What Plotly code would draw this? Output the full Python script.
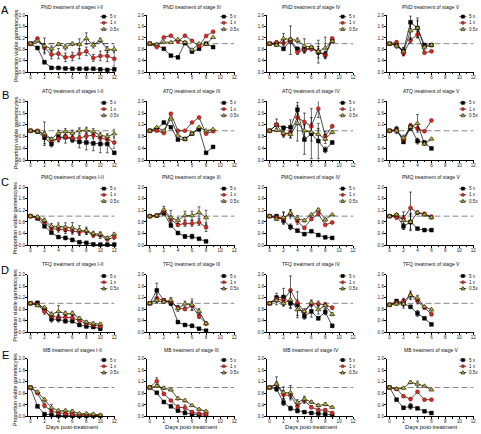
import plotly.graph_objects as go

W, H = 481, 434

# ---------------- data ----------------
titles = [
    "PND treatment of stages I-II", "PND treatment of stage III", "PND treatment of stage IV", "PND treatment of stage V",
    "ATQ treatment of stages I-II", "ATQ treatment of stage III", "ATQ treatment of stage IV", "ATQ treatment of stage V",
    "PMQ treatment of stages I-II", "PMQ treatment of stage III", "PMQ treatment of stage IV", "PMQ treatment of stage V",
    "TFQ treatment of stages I-II", "TFQ treatment of stage III", "TFQ treatment of stage IV", "TFQ treatment of stage V",
    "MB treatment of stages I-II", "MB treatment of stage III", "MB treatment of stage IV", "MB treatment of stage V",
]
row_letters = ["A", "B", "C", "D", "E"]
series_names = ["5 x", "1 x", "0.5x"]
x_ticks = [0, 2, 4, 6, 8, 10, 12]
y_ticks = [0.0, 0.4, 0.8, 1.2, 1.6, 2.0]

# A: PND
A1_5x = [1.00, 0.85, 0.35, 0.15, 0.15, 0.13, 0.12, 0.12, 0.12, 0.12, 0.10, 0.08, 0.10]
A1_5x_err = [0, 0.05, 0.06, 0.02, 0.02, 0.02, 0.02, 0.02, 0.02, 0.02, 0.02, 0.02, 0.06]
A1_1x = [1.00, 1.18, 0.85, 0.62, 0.65, 0.52, 0.55, 0.65, 0.73, 0.50, 0.57, 0.57, 0.47]
A1_1x_err = [0, 0.04, 0.15, 0.15, 0.18, 0.15, 0.15, 0.18, 0.15, 0.12, 0.17, 0.20, 0.25]
A1_05x = [1.00, 1.10, 0.92, 0.82, 0.98, 0.88, 0.99, 0.97, 1.18, 0.95, 1.12, 0.80, 0.80]
A1_05x_err = [0, 0.05, 0.28, 0.10, 0.05, 0.10, 0.06, 0.20, 0.20, 0.10, 0.08, 0.10, 0.12]

A2_5x = [1.00, 0.95, 0.82, 0.58, 0.52, 1.02, 0.72, 0.82, 1.00, 0.88]
A2_5x_err = [0, 0, 0, 0, 0, 0, 0, 0, 0, 0]
A2_1x = [1.00, 0.88, 1.22, 1.28, 1.08, 1.28, 1.10, 0.92, 1.27, 1.42]
A2_1x_err = [0, 0, 0, 0, 0, 0, 0, 0, 0, 0]
A2_05x = [1.00, 0.98, 1.05, 1.05, 1.15, 1.05, 0.78, 1.00, 0.98, 1.22]
A2_05x_err = [0, 0, 0, 0, 0, 0, 0, 0, 0, 0]

A3_5x = [1.00, 1.00, 0.82, 1.12, 0.82, 0.80, 0.85, 0.70, 0.62, 1.10]
A3_5x_err = [0, 0.05, 0.05, 0.50, 0.05, 0.10, 0.05, 0.20, 0.10, 0.05]
A3_1x = [1.00, 1.05, 1.02, 1.10, 0.70, 0.78, 0.82, 0.72, 0.60, 1.18]
A3_1x_err = [0, 0.05, 0.10, 0.10, 0.08, 0.10, 0.08, 0.10, 0.10, 0.05]
A3_05x = [1.00, 0.95, 1.18, 1.15, 1.12, 0.92, 0.88, 0.72, 0.85, 1.08]
A3_05x_err = [0, 0.05, 0.18, 0.05, 0.08, 0.25, 0.05, 0.40, 0.38, 0.05]

A4_5x = [1.00, 0.95, 0.75, 1.75, 1.55, 0.95, 0.95]
A4_5x_err = [0, 0.05, 0.10, 0.22, 0.25, 0.05, 0.03]
A4_1x = [1.00, 1.05, 0.65, 1.12, 1.32, 0.68, 0.73]
A4_1x_err = [0, 0.05, 0.05, 0.10, 0.10, 0.03, 0.03]
A4_05x = [1.00, 0.92, 0.72, 1.45, 1.55, 0.88, 0.95]
A4_05x_err = [0, 0.08, 0.15, 0.30, 0.35, 0.10, 0.05]

# B: ATQ
B1_5x = [1.00, 0.97, 0.76, 0.55, 0.78, 0.78, 0.70, 0.62, 0.60, 0.57, 0.55, 0.55, 0.25]
B1_5x_err = [0, 0.03, 0.20, 0.10, 0.15, 0.20, 0.10, 0.20, 0.25, 0.25, 0.30, 0.30, 0.05]
B1_1x = [1.00, 1.00, 0.85, 0.68, 0.72, 0.80, 0.75, 0.75, 0.82, 0.85, 0.75, 0.70, 0.60]
B1_1x_err = [0, 0.03, 0.10, 0.05, 0.10, 0.05, 0.10, 0.10, 0.10, 0.10, 0.10, 0.10, 0.20]
B1_05x = [1.00, 0.97, 0.90, 0.72, 0.92, 0.97, 0.92, 1.00, 1.02, 0.97, 0.85, 0.80, 0.90]
B1_05x_err = [0, 0.03, 0.40, 0.05, 0.10, 0.10, 0.10, 0.10, 0.10, 0.10, 0.10, 0.10, 0.15]

B2_5x = [1.00, 1.05, 1.28, 1.12, 0.70, 0.72, 0.90, 1.05, 0.25, 0.45]
B2_5x_err = [0, 0, 0, 0, 0, 0, 0, 0, 0, 0]
B2_1x = [1.00, 1.00, 0.92, 1.58, 1.00, 1.00, 1.28, 1.45, 0.90, 0.98]
B2_1x_err = [0, 0, 0, 0, 0, 0, 0, 0, 0, 0]
B2_05x = [1.00, 1.12, 1.00, 1.40, 0.85, 0.72, 0.90, 1.12, 1.00, 1.05]
B2_05x_err = [0, 0, 0, 0, 0, 0, 0, 0, 0, 0]

B3_5x = [1.00, 1.20, 1.10, 1.12, 1.72, 0.70, 0.90, 0.65, 0.35, 0.60]
B3_5x_err = [0, 0.05, 0.05, 0.25, 0.25, 0.50, 0.85, 0.60, 0.10, 0.05]
B3_1x = [1.00, 1.20, 0.88, 0.95, 1.45, 1.30, 1.15, 1.75, 0.82, 1.15]
B3_1x_err = [0, 0.20, 0.10, 0.20, 0.20, 0.30, 0.30, 0.30, 0.15, 0.05]
B3_05x = [1.00, 1.02, 0.92, 0.88, 1.25, 1.00, 0.95, 0.88, 0.72, 0.95]
B3_05x_err = [0, 0.05, 0.10, 0.10, 0.60, 0.20, 0.30, 0.20, 0.15, 0.05]

B4_5x = [1.00, 1.05, 0.62, 1.12, 0.65, 0.60, 0.40]
B4_5x_err = [0, 0.10, 0.05, 0.10, 0.10, 0.05, 0.03]
B4_1x = [1.00, 1.02, 0.70, 1.18, 1.08, 0.98, 1.35]
B4_1x_err = [0, 0.05, 0.05, 0.05, 0.05, 0.03, 0.03]
B4_05x = [1.00, 1.00, 0.75, 1.12, 1.25, 0.55, 0.72]
B4_05x_err = [0, 0.10, 0.10, 0.10, 0.30, 0.05, 0.03]

# C: PMQ
C1_5x = [1.00, 0.92, 0.65, 0.43, 0.28, 0.25, 0.18, 0.10, 0.08, 0.03, 0.02, 0.02, 0.02]
C1_5x_err = [0, 0.03, 0.05, 0.03, 0.03, 0.06, 0.06, 0.03, 0.03, 0.02, 0.02, 0.02, 0.02]
C1_1x = [1.00, 0.95, 0.78, 0.57, 0.55, 0.52, 0.50, 0.45, 0.47, 0.35, 0.33, 0.20, 0.27]
C1_1x_err = [0, 0.03, 0.08, 0.10, 0.10, 0.12, 0.12, 0.12, 0.10, 0.08, 0.10, 0.05, 0.08]
C1_05x = [1.00, 0.98, 0.85, 0.65, 0.65, 0.62, 0.60, 0.52, 0.50, 0.40, 0.38, 0.25, 0.38]
C1_05x_err = [0, 0.03, 0.08, 0.10, 0.12, 0.15, 0.18, 0.15, 0.12, 0.08, 0.08, 0.05, 0.05]

C2_5x = [1.00, 1.02, 1.10, 0.68, 0.42, 0.30, 0.30, 0.22, 0.13]
C2_5x_err = [0, 0.02, 0.05, 0.05, 0.05, 0.06, 0.08, 0.03, 0.03]
C2_1x = [1.00, 1.02, 1.15, 0.88, 0.70, 0.75, 0.75, 0.78, 0.62]
C2_1x_err = [0, 0.02, 0.10, 0.10, 0.05, 0.10, 0.10, 0.10, 0.15]
C2_05x = [1.00, 1.02, 1.22, 0.95, 0.85, 1.02, 1.02, 1.12, 0.95]
C2_05x_err = [0, 0.02, 0.12, 0.25, 0.10, 0.15, 0.15, 0.20, 0.25]

C3_5x = [1.00, 1.00, 0.85, 0.63, 0.50, 0.38, 0.48, 0.35, 0.27, 0.25]
C3_5x_err = [0, 0.05, 0.05, 0.10, 0.05, 0.05, 0.03, 0.03, 0.03, 0.03]
C3_1x = [1.00, 0.95, 0.92, 1.08, 0.82, 0.60, 0.90, 1.08, 0.70, 0.78]
C3_1x_err = [0, 0.08, 0.20, 0.15, 0.10, 0.05, 0.05, 0.05, 0.03, 0.03]
C3_05x = [1.00, 0.90, 0.95, 1.10, 0.92, 0.85, 1.05, 1.22, 0.88, 1.05]
C3_05x_err = [0, 0.05, 0.20, 0.10, 0.10, 0.05, 0.05, 0.05, 0.05, 0.03]

C4_5x = [1.00, 1.02, 0.65, 0.80, 0.57, 0.52, 0.52]
C4_5x_err = [0, 0.05, 0.10, 0.25, 0.03, 0.03, 0.03]
C4_1x = [1.00, 0.95, 0.92, 1.28, 1.12, 1.08, 0.98]
C4_1x_err = [0, 0.05, 0.10, 0.55, 0.05, 0.05, 0.05]
C4_05x = [1.00, 1.05, 0.85, 0.80, 1.12, 1.05, 0.95]
C4_05x_err = [0, 0.05, 0.30, 0.30, 0.05, 0.05, 0.05]

# D: TFQ
D1_5x = [1.00, 1.02, 0.80, 0.45, 0.45, 0.38, 0.38, 0.25, 0.20, 0.18, 0.12]
D1_5x_err = [0, 0.03, 0.05, 0.10, 0.10, 0.05, 0.05, 0.05, 0.05, 0.05, 0.05]
D1_1x = [1.00, 0.95, 0.72, 0.55, 0.52, 0.52, 0.50, 0.40, 0.30, 0.25, 0.20]
D1_1x_err = [0, 0.03, 0.10, 0.10, 0.10, 0.10, 0.08, 0.05, 0.05, 0.05, 0.05]
D1_05x = [1.00, 0.92, 0.85, 0.62, 0.72, 0.65, 0.65, 0.48, 0.35, 0.30, 0.28]
D1_05x_err = [0, 0.03, 0.05, 0.08, 0.20, 0.08, 0.08, 0.05, 0.05, 0.05, 0.05]

D2_5x = [1.00, 1.45, 1.10, 1.00, 0.35, 0.25, 0.22, 0.12, 0.05]
D2_5x_err = [0, 0.25, 0.05, 0.08, 0.03, 0.03, 0.05, 0.02, 0.02]
D2_1x = [1.00, 1.18, 1.10, 1.05, 0.85, 0.80, 0.92, 0.55, 0.30]
D2_1x_err = [0, 0.15, 0.05, 0.10, 0.08, 0.05, 0.15, 0.08, 0.05]
D2_05x = [1.00, 1.10, 1.05, 1.10, 0.82, 0.98, 0.95, 0.72, 0.30]
D2_05x_err = [0, 0.10, 0.05, 0.10, 0.10, 0.10, 0.20, 0.10, 0.05]

D3_5x = [1.00, 1.20, 1.22, 1.00, 0.95, 0.55, 0.72, 0.48, 0.70, 0.22]
D3_5x_err = [0, 0.15, 0.30, 0.15, 0.45, 0.10, 0.20, 0.05, 0.10, 0.05]
D3_1x = [1.00, 1.15, 1.10, 1.45, 1.02, 0.70, 0.98, 0.98, 0.95, 0.85]
D3_1x_err = [0, 0.10, 0.10, 0.50, 0.10, 0.05, 0.10, 0.10, 0.05, 0.05]
D3_05x = [1.00, 1.10, 1.00, 1.12, 0.78, 0.72, 1.02, 0.78, 0.92, 0.62]
D3_05x_err = [0, 0.15, 0.10, 0.30, 0.20, 0.10, 0.10, 0.15, 0.10, 0.05]

D4_5x = [0.95, 1.08, 1.00, 0.88, 0.65, 0.48, 0.27]
D4_5x_err = [0, 0.05, 0.10, 0.05, 0.10, 0.03, 0.03]
D4_1x = [0.95, 1.02, 1.08, 1.28, 1.08, 0.85, 0.62]
D4_1x_err = [0, 0.05, 0.10, 0.10, 0.10, 0.05, 0.05]
D4_05x = [0.95, 0.98, 0.98, 1.28, 1.18, 0.88, 0.78]
D4_05x_err = [0, 0.05, 0.15, 0.15, 0.10, 0.05, 0.05]

# E: MB
E1_5x = [1.00, 0.35, 0.08, 0.05, 0.03, 0.03, 0.02, 0.02, 0.02, 0.02, 0.02]
E1_5x_err = [0, 0.05, 0.03, 0.03, 0.02, 0.02, 0.02, 0.02, 0.02, 0.02, 0.02]
E1_1x = [1.00, 0.80, 0.38, 0.18, 0.12, 0.10, 0.08, 0.05, 0.05, 0.05, 0.03]
E1_1x_err = [0, 0.03, 0.08, 0.05, 0.05, 0.04, 0.03, 0.03, 0.03, 0.03, 0.02]
E1_05x = [1.00, 0.85, 0.58, 0.30, 0.20, 0.20, 0.18, 0.10, 0.10, 0.08, 0.05]
E1_05x_err = [0, 0.03, 0.06, 0.12, 0.05, 0.05, 0.05, 0.03, 0.03, 0.03, 0.02]

E2_5x = [1.00, 0.82, 0.50, 0.35, 0.20, 0.12, 0.08, 0.05, 0.05]
E2_5x_err = [0, 0.02, 0.03, 0.03, 0.03, 0.02, 0.02, 0.02, 0.02]
E2_1x = [1.00, 1.22, 0.78, 0.55, 0.32, 0.30, 0.15, 0.10, 0.08]
E2_1x_err = [0, 0.12, 0.05, 0.03, 0.08, 0.10, 0.05, 0.03, 0.03]
E2_05x = [1.00, 1.05, 0.98, 0.92, 0.62, 0.55, 0.38, 0.25, 0.18]
E2_05x_err = [0, 0.05, 0.05, 0.03, 0.05, 0.05, 0.03, 0.03, 0.03]

E3_5x = [1.00, 0.95, 0.48, 0.28, 0.20, 0.15, 0.12, 0.10, 0.08, 0.05]
E3_5x_err = [0, 0.05, 0.10, 0.08, 0.08, 0.03, 0.03, 0.03, 0.03, 0.02]
E3_1x = [1.00, 1.10, 0.75, 0.72, 0.35, 0.55, 0.32, 0.22, 0.22, 0.12]
E3_1x_err = [0, 0.10, 0.15, 0.10, 0.05, 0.10, 0.05, 0.05, 0.05, 0.03]
E3_05x = [1.00, 1.12, 0.82, 0.82, 0.48, 0.60, 0.50, 0.38, 0.42, 0.32]
E3_05x_err = [0, 0.25, 0.20, 0.25, 0.10, 0.10, 0.05, 0.05, 0.05, 0.03]

E4_5x = [1.00, 0.58, 0.30, 0.35, 0.28, 0.18, 0.12]
E4_5x_err = [0, 0.03, 0.05, 0.10, 0.03, 0.03, 0.03]
E4_1x = [1.00, 0.95, 0.70, 0.60, 0.85, 0.58, 0.58]
E4_1x_err = [0, 0.03, 0.03, 0.05, 0.03, 0.03, 0.03]
E4_05x = [1.00, 0.95, 0.98, 1.18, 1.12, 1.05, 0.92]
E4_05x_err = [0, 0.03, 0.03, 0.05, 0.10, 0.03, 0.03]

panel_series = [
    [(A1_5x, A1_5x_err), (A1_1x, A1_1x_err), (A1_05x, A1_05x_err)],
    [(A2_5x, A2_5x_err), (A2_1x, A2_1x_err), (A2_05x, A2_05x_err)],
    [(A3_5x, A3_5x_err), (A3_1x, A3_1x_err), (A3_05x, A3_05x_err)],
    [(A4_5x, A4_5x_err), (A4_1x, A4_1x_err), (A4_05x, A4_05x_err)],
    [(B1_5x, B1_5x_err), (B1_1x, B1_1x_err), (B1_05x, B1_05x_err)],
    [(B2_5x, B2_5x_err), (B2_1x, B2_1x_err), (B2_05x, B2_05x_err)],
    [(B3_5x, B3_5x_err), (B3_1x, B3_1x_err), (B3_05x, B3_05x_err)],
    [(B4_5x, B4_5x_err), (B4_1x, B4_1x_err), (B4_05x, B4_05x_err)],
    [(C1_5x, C1_5x_err), (C1_1x, C1_1x_err), (C1_05x, C1_05x_err)],
    [(C2_5x, C2_5x_err), (C2_1x, C2_1x_err), (C2_05x, C2_05x_err)],
    [(C3_5x, C3_5x_err), (C3_1x, C3_1x_err), (C3_05x, C3_05x_err)],
    [(C4_5x, C4_5x_err), (C4_1x, C4_1x_err), (C4_05x, C4_05x_err)],
    [(D1_5x, D1_5x_err), (D1_1x, D1_1x_err), (D1_05x, D1_05x_err)],
    [(D2_5x, D2_5x_err), (D2_1x, D2_1x_err), (D2_05x, D2_05x_err)],
    [(D3_5x, D3_5x_err), (D3_1x, D3_1x_err), (D3_05x, D3_05x_err)],
    [(D4_5x, D4_5x_err), (D4_1x, D4_1x_err), (D4_05x, D4_05x_err)],
    [(E1_5x, E1_5x_err), (E1_1x, E1_1x_err), (E1_05x, E1_05x_err)],
    [(E2_5x, E2_5x_err), (E2_1x, E2_1x_err), (E2_05x, E2_05x_err)],
    [(E3_5x, E3_5x_err), (E3_1x, E3_1x_err), (E3_05x, E3_05x_err)],
    [(E4_5x, E4_5x_err), (E4_1x, E4_1x_err), (E4_05x, E4_05x_err)],
]

# ---------------- layout geometry (pixels) ----------------
col_x0 = [30.7, 150.7, 271.3, 392.0]     # pixel of day 0
col_x12 = [115.0, 235.7, 355.3, 476.3]   # pixel of day 12
row_top = [13.3, 100.5, 187.3, 275.7, 360.7]
row_bot = [71.0, 160.0, 246.0, 334.0, 419.3]
title_y = [4.7, 90.0, 177.0, 265.0, 352.0]
letter_y = [8.0, 94.0, 182.5, 271.0, 357.0]
XMIN, XMAX = -0.4, 12.05

FONT = "Arial, Liberation Sans, Helvetica, sans-serif"
styles = [
    dict(symbol="square", color="#000000", size=3.8, lw=0.5, lc="#000000"),
    dict(symbol="circle", color="#d42a20", size=4.0, lw=0.5, lc="#7a1510"),
    dict(symbol="triangle-up", color="#c2b03a", size=4.6, lw=0.6, lc="#1a1a00"),
]


def PX(px):
    return px / W


def PY(py):
    return 1 - py / H


fig = go.Figure()
shapes = []
annotations = []
layout = {}

for p in range(20):
    r, c = divmod(p, 4)
    n = p + 1
    xa, ya = f"x{n}", f"y{n}"
    s = (col_x12[c] - col_x0[c]) / 12.0
    left_px = col_x0[c] + XMIN * s
    right_px = col_x0[c] + XMAX * s
    layout[f"xaxis{n}"] = dict(
        domain=[PX(left_px), PX(right_px)], range=[XMIN, XMAX], anchor=ya,
        tickvals=x_ticks, ticktext=[str(t) for t in x_ticks],
        showline=True, linecolor="#000", linewidth=0.7, ticks="outside",
        ticklen=2, tickwidth=0.6, tickcolor="#000", showgrid=False, zeroline=False,
        tickfont=dict(size=4.6, family=FONT, color="#222"), ticklabelstandoff=-2,
        minor=dict(tickvals=[1, 3, 5, 7, 9, 11], ticks="outside", ticklen=1.2, tickwidth=0.5, tickcolor="#000"),
    )
    layout[f"yaxis{n}"] = dict(
        domain=[PY(row_bot[r]), PY(row_top[r])], range=[0, 2.0], anchor=xa,
        tickvals=y_ticks, ticktext=[f"{t:.1f}" for t in y_ticks],
        showline=True, linecolor="#000", linewidth=0.7, ticks="outside",
        ticklen=2, tickwidth=0.6, tickcolor="#000", showgrid=False, zeroline=False,
        tickfont=dict(size=4.6, family=FONT, color="#222"), ticklabelstandoff=-1,
    )

    # dashed reference line at 1.0
    shapes.append(dict(type="line", xref=xa, yref=ya, x0=0, x1=12, y0=1, y1=1,
                       line=dict(color="#222" if p == 0 else "#7a7a7a", width=0.9, dash="6px,3px"),
                       layer="below"))

    for k, (vals, errs) in enumerate(panel_series[p]):
        st = styles[k]
        fig.add_trace(go.Scatter(
            x=list(range(len(vals))), y=vals, xaxis=xa, yaxis=ya,
            mode="lines+markers", name=series_names[k], showlegend=False,
            line=dict(color="#000", width=0.7),
            marker=dict(symbol=st["symbol"], size=st["size"], color=st["color"],
                        line=dict(color=st["lc"], width=st["lw"])),
            error_y=dict(type="data", array=errs, symmetric=True, color="#000",
                         thickness=0.6, width=1.4, visible=any(e > 0 for e in errs)),
            cliponaxis=False,
        ))

    # title
    annotations.append(dict(text=titles[p], x=PX((col_x0[c] + col_x12[c]) / 2), y=PY(title_y[r]),
                            xref="paper", yref="paper", showarrow=False, xanchor="center", yanchor="middle",
                            font=dict(size=5.0, family=FONT, color="#111")))

    # legend (drawn manually, small Prism-like keys)
    R = col_x12[c]
    for k in range(3):
        st = styles[k]
        yc = row_top[r] + 1.5 + 6.3 * k
        shapes.append(dict(type="line", xref="paper", yref="paper",
                           x0=PX(R - 14), x1=PX(R - 7), y0=PY(yc), y1=PY(yc),
                           line=dict(color="#000", width=0.7)))
        mx = R - 10.5
        rr = 1.6
        if k == 0:
            shapes.append(dict(type="rect", xref="paper", yref="paper",
                               x0=PX(mx - rr), x1=PX(mx + rr), y0=PY(yc + rr), y1=PY(yc - rr),
                               fillcolor=st["color"], line=dict(color="#000", width=0.5)))
        elif k == 1:
            shapes.append(dict(type="circle", xref="paper", yref="paper",
                               x0=PX(mx - rr), x1=PX(mx + rr), y0=PY(yc + rr), y1=PY(yc - rr),
                               fillcolor=st["color"], line=dict(color=st["lc"], width=0.5)))
        else:
            path = (f"M{PX(mx - 1.9)},{PY(yc + 1.5)} L{PX(mx + 1.9)},{PY(yc + 1.5)} "
                    f"L{PX(mx)},{PY(yc - 1.9)} Z")
            shapes.append(dict(type="path", xref="paper", yref="paper", path=path,
                               fillcolor=st["color"], line=dict(color="#000", width=0.6)))
        annotations.append(dict(text=series_names[k], x=PX(R - 5.5), y=PY(yc), xref="paper", yref="paper",
                                showarrow=False, xanchor="left", yanchor="middle", borderpad=0,
                                font=dict(size=4.6, family=FONT, color="#111")))

# row letters and y-axis titles
for r in range(5):
    annotations.append(dict(text=row_letters[r], x=PX(5.5), y=PY(letter_y[r]), xref="paper", yref="paper",
                            showarrow=False, xanchor="center", yanchor="middle",
                            font=dict(size=11, family=FONT, color="#000")))
    annotations.append(dict(text="Proportion viable gametocytes", x=PX(15.5),
                            y=PY((row_top[r] + row_bot[r]) / 2 + 2), xref="paper", yref="paper",
                            showarrow=False, textangle=-90, xanchor="center", yanchor="middle",
                            font=dict(size=5.4, family=FONT, color="#111")))

# x-axis titles for the bottom row
for c in range(4):
    annotations.append(dict(text="Days post-treatment", x=PX((col_x0[c] + col_x12[c]) / 2), y=PY(430.0),
                            xref="paper", yref="paper", showarrow=False, xanchor="center", yanchor="middle",
                            borderpad=0, font=dict(size=5.8, family=FONT, color="#111")))

fig.update_layout(
    width=W, height=H, autosize=False,
    margin=dict(l=0, r=0, t=0, b=0),
    paper_bgcolor="#ffffff", plot_bgcolor="#ffffff",
    showlegend=False, shapes=shapes, annotations=annotations,
    font=dict(family=FONT),
    **layout,
)

fig.write_html("out.html", config={"displayModeBar": False},
               post_script="document.body.style.margin='0';document.body.style.padding='0';"
                           "document.body.style.overflow='hidden';")
